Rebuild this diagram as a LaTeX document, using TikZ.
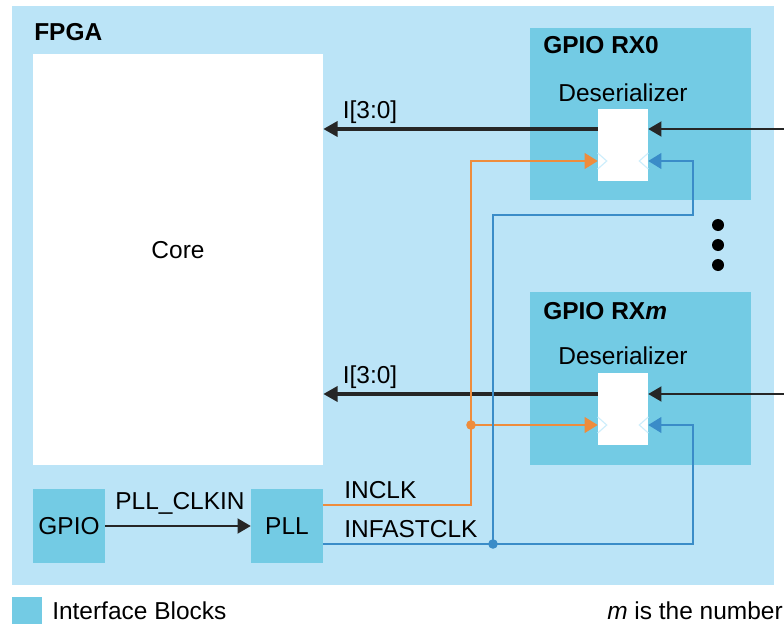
\documentclass[tikz,border=0pt]{standalone}
\usepackage{fontspec}
\setmainfont{Liberation Sans}
\usetikzlibrary{arrows.meta,positioning,calc}
\definecolor{fpgaBleu}{RGB}{187,228,247}
\definecolor{blocBleu}{RGB}{115,203,228}
\definecolor{clkOrange}{RGB}{238,140,60}
\definecolor{clkBleu}{RGB}{58,140,200}
\definecolor{chevBleu}{RGB}{205,238,252}

\begin{document}
\begin{tikzpicture}[x=0.025cm,y=-0.025cm,font=\fontsize{17.4}{20}\selectfont,
  b/.style={rectangle,inner sep=0pt,fill=blocBleu},
  w/.style={rectangle,inner sep=0pt,fill=white},
  t/.style={inner sep=0pt},
  tb/.style={inner sep=0pt,anchor=west,font=\fontsize{17.4}{20}\selectfont\bfseries},
  ain/.style={-{Triangle[length=0.33cm,width=0.38cm]},line width=0.9pt,black!85},
  aout/.style={-{Triangle[length=0.36cm,width=0.38cm]},line width=2.4pt,black!85},
  ao/.style={-{Triangle[length=0.33cm,width=0.4cm]},clkOrange,line width=0.8pt},
  ab/.style={-{Triangle[length=0.33cm,width=0.4cm]},clkBleu,line width=0.8pt},
  chev/.style={chevBleu,line width=0.8pt}]

  \useasboundingbox (0,0) rectangle (784,624);

  % blocks
  \node[fill=fpgaBleu,inner sep=0pt,minimum width=19.05cm,minimum height=14.475cm] (fpga) at (393,295.5) {};
  \node[tb] (fpgat) at (34,32) {FPGA};
  \node[w,minimum width=7.25cm,minimum height=10.275cm,text depth=0.47cm] (core) at (178,259.5) {Core};

  \node[b,minimum width=5.525cm,minimum height=4.3cm] (rx0) at (640.5,114) {};
  \node[tb] (rx0t) at (543,45) {GPIO RX0};
  \node[t] (des0t) at (623,93) {Deserializer};
  \node[w,minimum width=1.25cm,minimum height=1.8cm] (des0) at (623,145) {};

  \node[b,minimum width=5.525cm,minimum height=4.325cm] (rxm) at (640.5,378.5) {};
  \node[tb] (rxmt) at (543,311) {GPIO RX\textit{m}};
  \node[t] (desmt) at (623,356) {Deserializer};
  \node[w,minimum width=1.25cm,minimum height=1.8cm] (desm) at (623,409) {};

  \node[b,minimum width=1.8cm,minimum height=1.85cm] (gpio) at (69,526) {GPIO};
  \node[b,minimum width=1.8cm,minimum height=1.85cm] (pll) at (287,526) {PLL};

  % data
  \coordinate (rin0) at (784,129);
  \coordinate (rinm) at (784,394);
  \draw[ain] (rin0) -- (rin0 -| des0.east);
  \draw[ain] (rinm) -- (rinm -| desm.east);
  \draw[aout] (rin0 -| des0.west) -- (rin0 -| core.east);
  \draw[aout] (rinm -| desm.west) -- (rinm -| core.east);
  \node[t] (i0t) at (370,112) {I[3:0]};
  \node[t] (imt) at (370,377) {I[3:0]};

  \draw[ain] (gpio) -- (pll);
  \node[t] (clkint) at (180,503) {PLL\_CLKIN};
  \node[t,anchor=west] (inclkt) at (344,490) {INCLK};
  \node[t,anchor=west] (infastt) at (344,529) {INFASTCLK};

  % clock chevrons
  \foreach \d in {des0,desm} {
    \draw[chev] ($(\d.west)+(0,8)$) -- ($(\d.west)+(9,16)$) -- ($(\d.west)+(0,24)$);
    \draw[chev] ($(\d.east)+(0,8)$) -- ($(\d.east)+(-9,16)$) -- ($(\d.east)+(0,24)$);
  }

  % clocks
  \coordinate (obr) at (471,425);
  \coordinate (bbr) at (493,544);
  \coordinate (bup) at (693,215);
  \draw[ao] ($(pll.east)+(0,-21)$) -| (obr) |- ($(des0.west)+(0,16)$);
  \draw[ao] (obr) -- ($(desm.west)+(0,16)$);
  \fill[clkOrange] (obr) circle (0.12cm);
  \draw[ab] ($(pll.east)+(0,18)$) -- (bbr) -- (bbr -| bup) |- ($(desm.east)+(0,16)$);
  \draw[ab] (bbr) |- (bup) |- ($(des0.east)+(0,16)$);
  \fill[clkBleu] (bbr) circle (0.12cm);

  \foreach \yy in {225,245,265} \fill (718,\yy) circle (0.15cm);

  % legend
  \node[b,minimum width=0.75cm,minimum height=0.675cm] (leg) at (27,610.5) {};
  \node[t,anchor=west] (legt) at (52,611) {Interface Blocks};
  \node[t,anchor=west] (mnote) at (607,611) {\textit{m} is the number};
\end{tikzpicture}
\end{document}
